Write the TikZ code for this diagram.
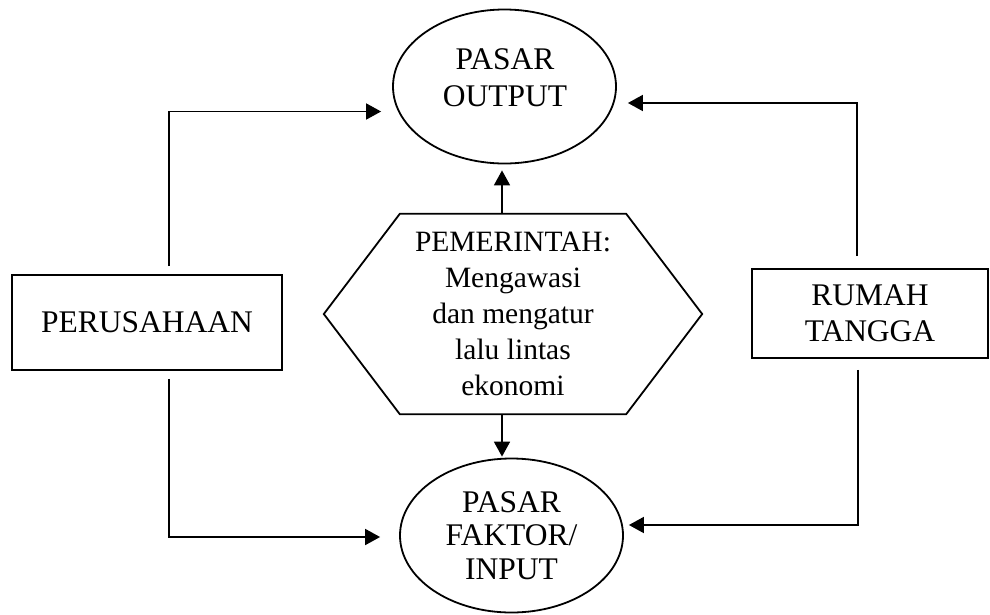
\documentclass[tikz,border=0pt]{standalone}
\usepackage{fontspec}
\setmainfont{Liberation Serif}
\usetikzlibrary{arrows.meta, calc, positioning, shapes.geometric}

\begin{document}
\begin{tikzpicture}[x=1pt,y=-1pt,
    big/.style={font=\fontsize{31.5}{37}\selectfont,align=center},
    market/.style={ellipse,draw,line width=1.8pt,inner sep=0pt,minimum width=223pt,minimum height=154pt},
    actor/.style={rectangle,draw,line width=1.8pt,inner sep=0pt},
    flow/.style={line width=1.8pt,-{Triangle[length=15pt,width=16pt]}}]
\useasboundingbox (0,0) rectangle (990,614);
%
\node[market] (outp) at (504.5,86.5) {};
\node[big] (outptxt) at (505,78) {PASAR\\OUTPUT};
\node[market,big,font=\fontsize{31.5}{33.5}\selectfont] (inp) at (511.5,535.5) {PASAR\\FAKTOR/\\INPUT};

%
\node[actor,big,minimum width=270pt,minimum height=95pt] (firm) at (147,322.5) {PERUSAHAAN};
\node[actor,big,font=\fontsize{31.5}{36}\selectfont,minimum width=236pt,minimum height=89pt] (hh) at (870,313.5) {RUMAH\\TANGGA};

%
\node[minimum width=226pt,minimum height=200pt,inner sep=0pt,font=\fontsize{29.5}{36}\selectfont,align=center] (gov) at (513,314)
    {PEMERINTAH:\\Mengawasi\\dan mengatur\\lalu lintas\\ekonomi};
\draw[line width=1.8pt] (gov.north west) -- (gov.north east) -- ([xshift=76pt]gov.east)
    -- (gov.south east) -- (gov.south west) -- ([xshift=-76pt]gov.west) -- cycle;

%
\draw[flow] ([xshift=22pt,yshift=8pt]firm.north) |- ([xshift=-11pt,yshift=-25pt]outp.west);
\draw[flow] ([xshift=-13pt,yshift=12pt]hh.north) |- ([xshift=11pt,yshift=-16.5pt]outp.east);
\draw[flow] ([xshift=22pt,yshift=-8pt]firm.south) |- ([xshift=-19pt,yshift=-1.5pt]inp.west);
\draw[flow] ([xshift=-12pt,yshift=-11pt]hh.south) |- ([xshift=5pt,yshift=10.5pt]inp.east);
\draw[flow,shorten >=6pt] ([xshift=-11pt]gov.north) -- ([xshift=-11pt]gov.north |- outp.south);
\draw[flow,shorten >=1pt] ([xshift=-11pt]gov.south) -- ([xshift=-11pt]gov.south |- inp.north);
\end{tikzpicture}
\end{document}
